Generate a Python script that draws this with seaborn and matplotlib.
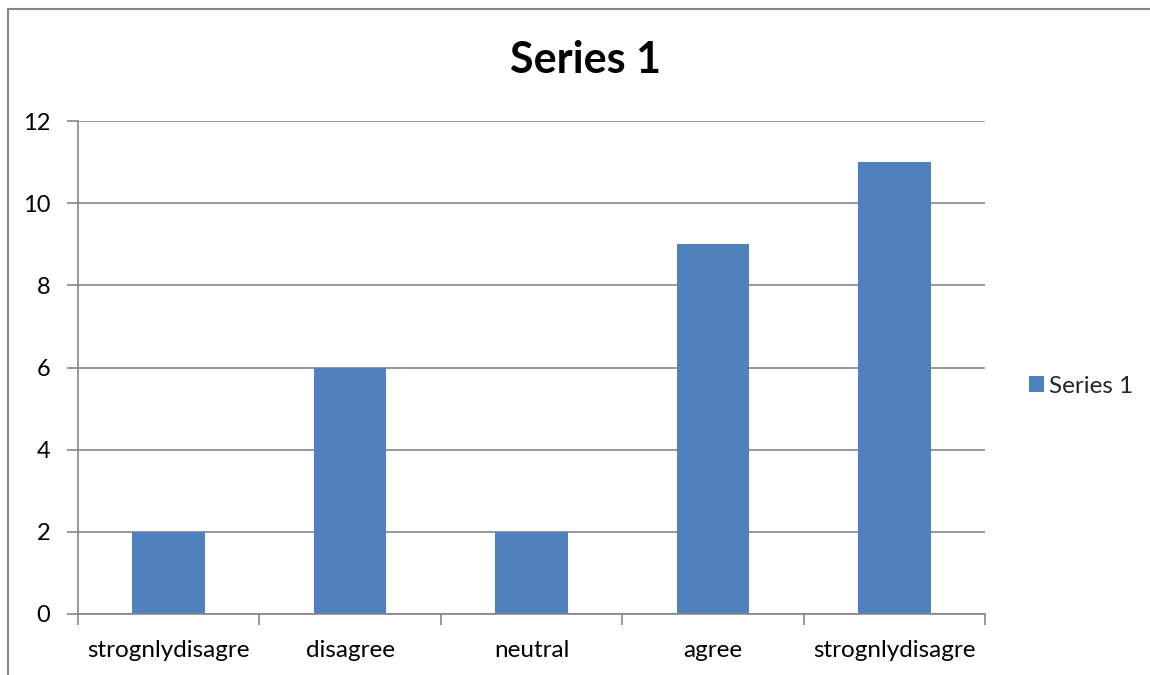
import matplotlib
matplotlib.use("Agg")
import matplotlib.pyplot as plt
from matplotlib.lines import Line2D
from matplotlib.patches import Patch
import numpy as np
import pandas as pd
import seaborn as sns

categories = ["strognlydisagre", "disagree", "neutral", "agree", "strognlydisagre"]
values = [2, 6, 2, 9, 11]
series_name = "Series 1"
y_ticks = [0, 2, 4, 6, 8, 10, 12]

BAR_COLOR = "#4F81BD"
GRID_COLOR = "#868686"

sns.set_theme(style="white")
plt.rcParams["font.family"] = ["Lato", "DejaVu Sans"]

df = pd.DataFrame({"pos": list(range(len(categories))), "value": values})

fig = plt.figure(figsize=(11.5, 6.75), dpi=100)
ax = fig.add_axes([0.0678, 0.0904, 0.7887, 0.7303])

sns.barplot(data=df, x="pos", y="value", color=BAR_COLOR, width=0.4,
            saturation=1, ax=ax, native_scale=True, linewidth=0)

ax.set_xlim(-0.5, len(categories) - 0.5)
ax.set_ylim(0, 12)
ax.set_yticks(y_ticks)
ax.set_yticklabels([str(t) for t in y_ticks], fontsize=17, color="black")

# category boundaries carry the tick marks, centres carry the labels
ax.set_xticks(np.arange(-0.5, len(categories), 1.0))
ax.set_xticklabels([])
ax.set_xticks(np.arange(len(categories)), minor=True)
ax.set_xticklabels(categories, minor=True, fontsize=17.5, color="black")
ax.tick_params(axis="x", which="major", bottom=True, length=8, width=1.2,
               color=GRID_COLOR, direction="out")
ax.tick_params(axis="x", which="minor", bottom=True, length=0, pad=19)
ax.tick_params(axis="y", left=True, length=8, width=1.2, color=GRID_COLOR,
               direction="out", pad=12)

ax.yaxis.grid(True, color=GRID_COLOR, linewidth=1.2)
ax.set_axisbelow(True)
for side in ["top", "right"]:
    ax.spines[side].set_visible(False)
for side in ["left", "bottom"]:
    ax.spines[side].set_color(GRID_COLOR)
    ax.spines[side].set_linewidth(1.2)

ax.set_xlabel("")
ax.set_ylabel("")

fig.text(0.509, 0.911, series_name, ha="center", va="center",
         fontsize=31, fontweight="bold", color="black")

ax.legend(handles=[Patch(facecolor=BAR_COLOR, edgecolor="none", label=series_name)],
          loc="center left", bbox_to_anchor=(0.886, 0.428), bbox_transform=fig.transFigure,
          frameon=False, fontsize=17.5, handlelength=0.65, handleheight=0.65,
          handletextpad=0.2, borderaxespad=0)

# outer chart border (left and top edges)
fig.add_artist(Line2D([8 / 1150, 8 / 1150], [0, 1 - 9 / 675], transform=fig.transFigure,
                      color=GRID_COLOR, linewidth=1.5))
fig.add_artist(Line2D([8 / 1150, 1], [1 - 9 / 675, 1 - 9 / 675], transform=fig.transFigure,
                      color=GRID_COLOR, linewidth=1.5))

fig.savefig("out.png", dpi=100, facecolor="white")
